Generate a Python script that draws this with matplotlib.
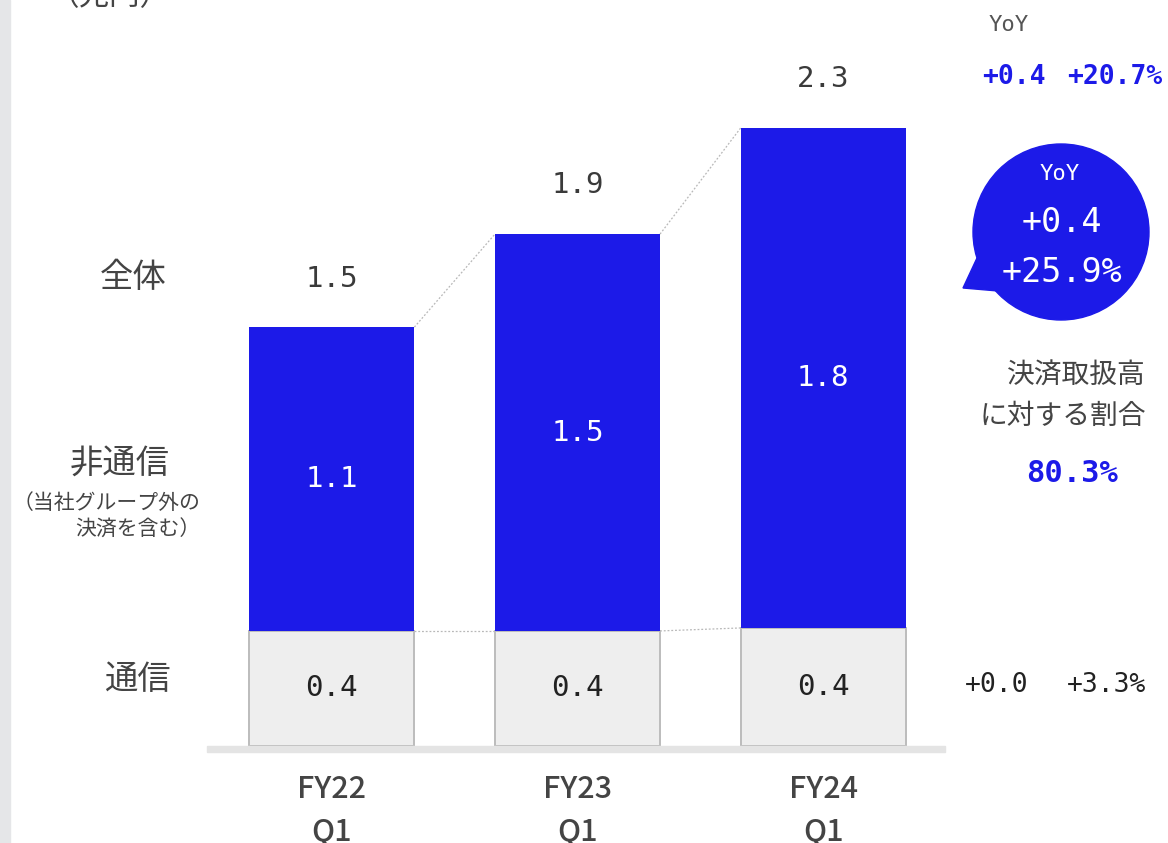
import matplotlib
matplotlib.use("Agg")
import matplotlib.pyplot as plt
from matplotlib.patches import Rectangle, Circle, Polygon
from matplotlib.transforms import Affine2D

plt.rcParams['font.family'] = ['Noto Sans CJK JP', 'DejaVu Sans']

# ---- data (兆円) ----
periods = ["FY22\nQ1", "FY23\nQ1", "FY24\nQ1"]
telecom = [0.423, 0.423, 0.434]
non_telecom = [1.117, 1.459, 1.838]
row_labels = ["全体", "非通信", "通信"]

BLUE = "#1c1ae8"
GRAY_FILL = "#eeeeee"
GRAY_EDGE = "#bcbcbc"
DARK = "#3a3a3a"
MONO = ["DejaVu Sans Mono"]

W, H, DPI = 1168, 843, 100
fig = plt.figure(figsize=(W / DPI, H / DPI), dpi=DPI)
fig.patch.set_facecolor("white")

# pixel-space transform (origin top-left) for the surrounding annotations
px = Affine2D().scale(1 / DPI, -1 / DPI).translate(0, H / DPI) + fig.dpi_scale_trans

# plot area
base_y = 746
ax = fig.add_axes([209 / W, (H - base_y) / H, 737 / W, base_y / H])
ax.set_xlim(-0.5, 2.5)
ax.set_ylim(0, base_y / 272)
ax.axis("off")

x = list(range(len(periods)))
width = 0.672
totals = [t + n for t, n in zip(telecom, non_telecom)]

ax.bar(x, telecom, width, color=GRAY_FILL, edgecolor=GRAY_EDGE, linewidth=1.4, zorder=2)
ax.bar(x, non_telecom, width, bottom=telecom, color=BLUE, linewidth=0, zorder=3)

# dotted connectors between neighbouring bars
for i in range(len(x) - 1):
    ax.plot([x[i] + width / 2, x[i + 1] - width / 2], [totals[i], totals[i + 1]],
            ls=(0, (1.5, 1.5)), color="#b8b8b8", lw=0.9, zorder=1)
    ax.plot([x[i] + width / 2, x[i + 1] - width / 2], [telecom[i], telecom[i + 1]],
            ls=(0, (1.5, 1.5)), color="#b8b8b8", lw=0.9, zorder=1)

# value labels
for xi, t, n, tot in zip(x, telecom, non_telecom, totals):
    ax.text(xi, t / 2, f"{t:.1f}", ha="center", va="center", fontsize=21,
            family=MONO, color="#222222", zorder=4)
    ax.text(xi, t + n / 2, f"{n:.1f}", ha="center", va="center", fontsize=21,
            family=MONO, color="white", zorder=4)
    ax.annotate(f"{tot:.1f}", (xi, tot), xytext=(0, 35), textcoords="offset points",
                ha="center", va="center", fontsize=21, family=MONO, color=DARK)

# category labels under the bars (year on the first line, quarter below)
for xi, lab in zip(x, periods):
    year, quarter = lab.split("\n")
    ax.annotate(year, (xi, 0), xytext=(0, -31.5), textcoords="offset points",
                ha="center", va="center", fontsize=22, color="#444444",
                fontweight="medium", annotation_clip=False)
    ax.annotate(quarter, (xi, 0), xytext=(0, -62), textcoords="offset points",
                ha="center", va="center", fontsize=22, color="#444444",
                fontweight="medium", annotation_clip=False)

# baseline and left edge band
fig.patches.append(Rectangle((207, 746), 738, 6, transform=px, color="#e4e4e4", zorder=1))
fig.patches.append(Rectangle((0, 0), 10, H, transform=px, color="#e5e6e8", zorder=1))

# unit and row labels
fig.text(110, -3, "（兆円）", transform=px, ha="center", va="center", fontsize=22, color="#444444")
fig.text(133, 278, row_labels[0], transform=px, ha="center", va="center", fontsize=24, color="#444444")
fig.text(120, 463, row_labels[1], transform=px, ha="center", va="center", fontsize=24, color="#444444")
fig.text(200, 503, "（当社グループ外の", transform=px, ha="right", va="center", fontsize=15, color="#444444")
fig.text(200, 530, "決済を含む）", transform=px, ha="right", va="center", fontsize=15, color="#444444")
fig.text(137, 680, row_labels[2], transform=px, ha="center", va="center", fontsize=24, color="#444444")

# YoY for the total
fig.text(1009, 25, "YoY", transform=px, ha="center", va="center", fontsize=16,
         family=MONO, color="#555555")
fig.text(1014, 77, "+0.4", transform=px, ha="center", va="center", fontsize=19,
         family=MONO, color=BLUE, fontweight="bold")
fig.text(1115, 77, "+20.7%", transform=px, ha="center", va="center", fontsize=19,
         family=MONO, color=BLUE, fontweight="bold")

# speech bubble for non-telecom YoY
fig.patches.append(Circle((1061, 232), 88, transform=px, color=BLUE, zorder=2))
fig.patches.append(Polygon([(977, 258), (963, 288), (998, 291)], closed=True,
                           transform=px, color=BLUE, zorder=2))
fig.text(1060, 174, "YoY", transform=px, ha="center", va="center", fontsize=16,
         family=MONO, color="white", zorder=3)
fig.text(1062, 222, "+0.4", transform=px, ha="center", va="center", fontsize=24,
         family=MONO, color="white", zorder=3)
fig.text(1062, 272, "+25.9%", transform=px, ha="center", va="center", fontsize=24,
         family=MONO, color="white", zorder=3)

# share of total payment volume
fig.text(1146, 376, "決済取扱高", transform=px, ha="right", va="center", fontsize=20, color="#444444")
fig.text(1146, 416, "に対する割合", transform=px, ha="right", va="center", fontsize=20, color="#444444")
fig.text(1072, 473, "80.3%", transform=px, ha="center", va="center", fontsize=22,
         family=MONO, color=BLUE, fontweight="bold")

# YoY for telecom
fig.text(997, 685, "+0.0", transform=px, ha="center", va="center", fontsize=19,
         family=MONO, color="#222222")
fig.text(1107, 685, "+3.3%", transform=px, ha="center", va="center", fontsize=19,
         family=MONO, color="#222222")

fig.savefig("out.png", dpi=DPI, facecolor="white")
